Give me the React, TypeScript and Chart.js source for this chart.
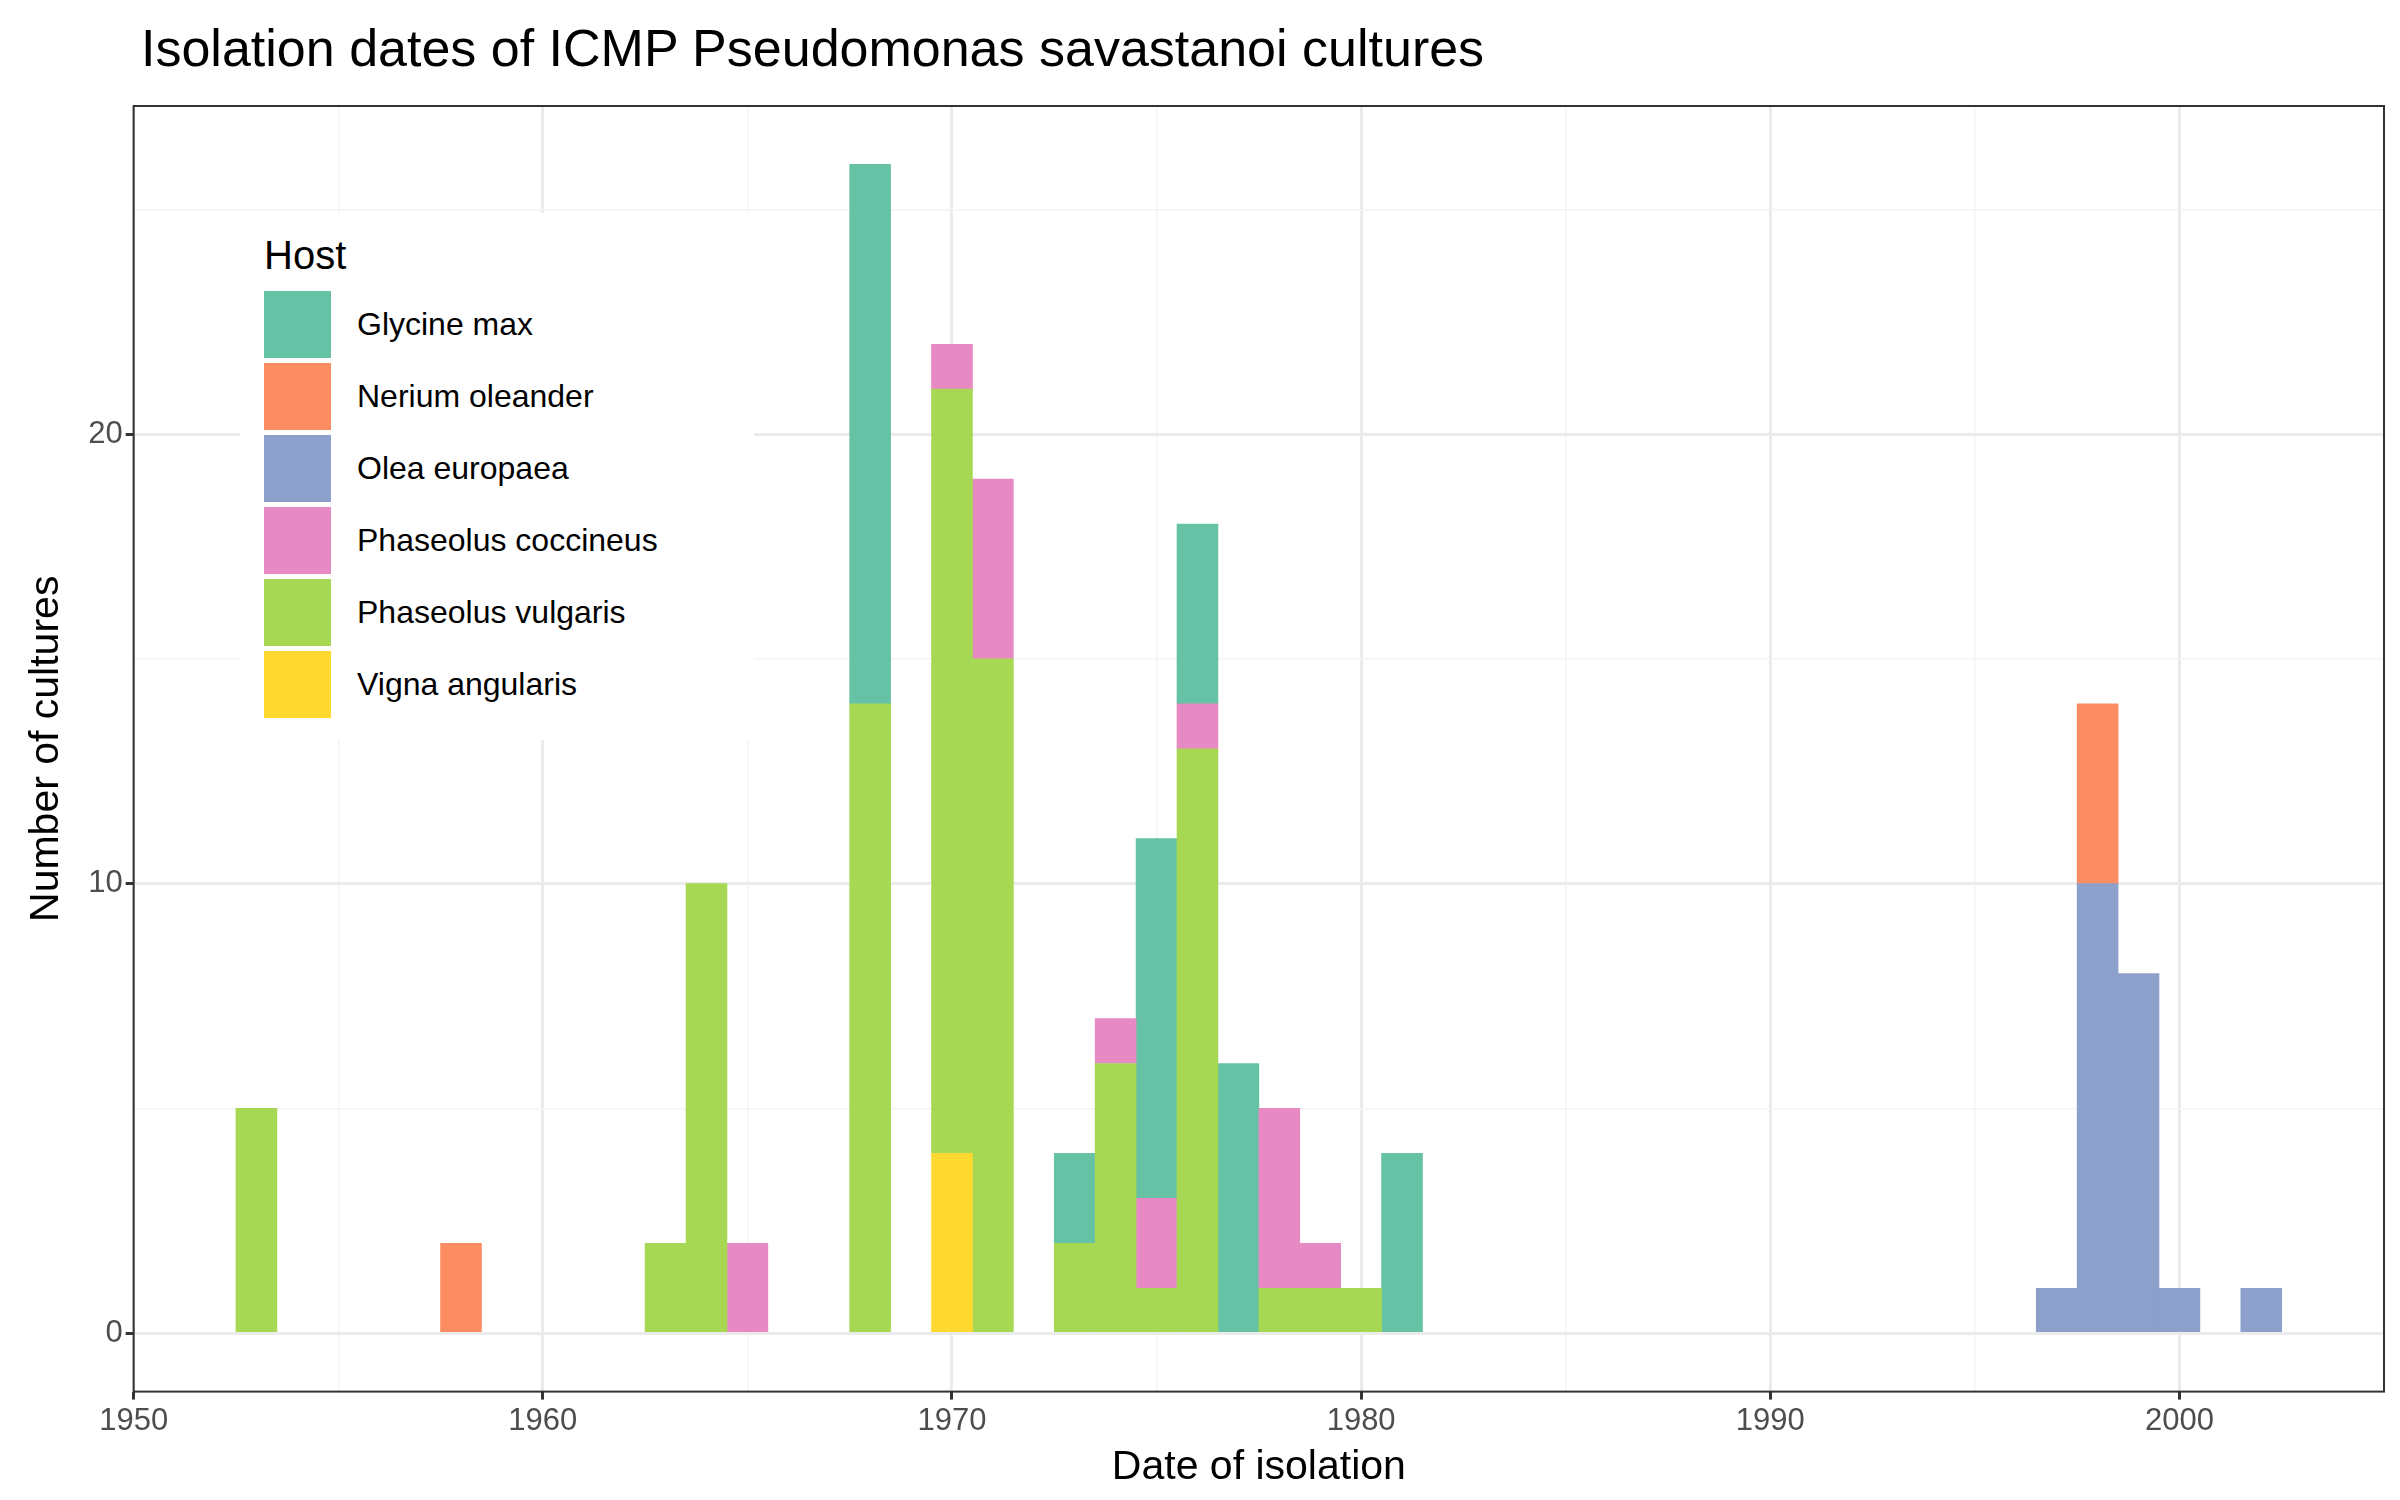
import { Chart, registerables } from "chart.js";
import { useEffect, useRef } from "react";

Chart.register(...registerables);

const hosts = ["Glycine max", "Nerium oleander", "Olea europaea", "Phaseolus coccineus", "Phaseolus vulgaris", "Vigna angularis"];
const colors = ["#66C2A5", "#FC8D62", "#8DA0CB", "#E78AC3", "#A6D854", "#FFD92F"];

const glycineYears = [1968, 1973, 1975, 1976, 1977, 1981];
const glycineCounts = [12, 2, 8, 4, 6, 4];
const neriumYears = [1958, 1998];
const neriumCounts = [2, 4];
const oleaYears = [1997, 1998, 1999, 2000, 2002];
const oleaCounts = [1, 10, 8, 1, 1];
const coccineusYears = [1965, 1970, 1971, 1974, 1975, 1976, 1978, 1979];
const coccineusCounts = [2, 1, 4, 1, 2, 1, 4, 1];
const vulgarisYears = [1953, 1963, 1964, 1968, 1970, 1971, 1973, 1974, 1975, 1976, 1978, 1979, 1980];
const vulgarisCounts = [5, 2, 10, 14, 17, 15, 2, 6, 1, 13, 1, 1, 1];
const vignaYears = [1970];
const vignaCounts = [4];

const xTicks = [1950, 1955, 1960, 1965, 1970, 1975, 1980, 1985, 1990, 1995, 2000, 2005];
const yTicks = [0, 5, 10, 15, 20, 25];

const FONT = "'Liberation Sans', Arial, sans-serif";

function pts(years: number[], counts: number[]) {
  return years.map((x, i) => ({ x, y: counts[i] }));
}

export default function App() {
  const canvasRef = useRef<HTMLCanvasElement | null>(null);
  const chartRef = useRef<Chart | null>(null);

  useEffect(() => {
    const canvas = canvasRef.current;
    if (!canvas) return;
    const ctx = canvas.getContext("2d");
    if (!ctx) return;

    // bottom-to-top stacking order (ggplot stacks last level at bottom)
    const series = [
      { i: 5, d: pts(vignaYears, vignaCounts) },
      { i: 4, d: pts(vulgarisYears, vulgarisCounts) },
      { i: 3, d: pts(coccineusYears, coccineusCounts) },
      { i: 2, d: pts(oleaYears, oleaCounts) },
      { i: 1, d: pts(neriumYears, neriumCounts) },
      { i: 0, d: pts(glycineYears, glycineCounts) },
    ];

    const border = {
      id: "panelBorder",
      afterDraw(c: Chart) {
        const a = c.chartArea;
        c.ctx.save();
        c.ctx.strokeStyle = "#333333";
        c.ctx.lineWidth = 2;
        c.ctx.strokeRect(a.left, a.top, a.right - a.left, a.bottom - a.top);
        c.ctx.restore();
      },
    };

    const gridColor = (c: any) => (c.tick && c.tick.value % 10 === 0 ? "#EBEBEB" : "#F4F4F4");
    const gridWidth = (c: any) => (c.tick && c.tick.value % 10 === 0 ? 3 : 1.5);

    chartRef.current?.destroy();
    chartRef.current = new Chart(ctx, {
      type: "bar",
      data: {
        datasets: series.map((s) => ({
          label: hosts[s.i],
          data: s.d,
          backgroundColor: colors[s.i],
          barPercentage: 1,
          categoryPercentage: 1,
          borderWidth: 0,
        })),
      },
      plugins: [border],
      options: {
        animation: false,
        responsive: true,
        maintainAspectRatio: false,
        layout: { padding: { left: 14, right: 8, top: 98, bottom: 0 } },
        plugins: {
          legend: { display: false },
          tooltip: { enabled: false },
        },
        scales: {
          x: {
            type: "linear",
            stacked: true,
            min: 1950,
            max: 2005,
            offset: false,
            afterBuildTicks: (s: any) => {
              s.ticks = xTicks.map((v) => ({ value: v }));
            },
            grid: {
              offset: false,
              color: gridColor,
              lineWidth: gridWidth,
              tickColor: (c: any) => (c.tick && c.tick.value % 10 === 0 ? "#333" : "transparent"),
              tickLength: 8,
            },
            border: { display: false },
            ticks: {
              color: "#4D4D4D",
              font: { family: FONT, size: 31 },
              maxRotation: 0,
              autoSkip: false,
              callback: (v: any) => (Number(v) % 10 === 0 && Number(v) <= 2000 ? String(v) : ""),
            },
            title: {
              display: true,
              text: "Date of isolation",
              color: "#000",
              font: { family: FONT, size: 41 },
              padding: { top: 0, bottom: 0 },
            },
          },
          y: {
            stacked: true,
            min: -1.3,
            max: 27.3,
            afterBuildTicks: (s: any) => {
              s.ticks = yTicks.map((v) => ({ value: v }));
            },
            grid: {
              color: gridColor,
              lineWidth: gridWidth,
              tickColor: (c: any) => (c.tick && c.tick.value % 10 === 0 ? "#333" : "transparent"),
              tickLength: 8,
            },
            border: { display: false },
            ticks: {
              color: "#4D4D4D",
              font: { family: FONT, size: 31 },
              callback: (v: any) => (Number(v) % 10 === 0 ? String(v) : ""),
            },
            title: {
              display: true,
              text: "Number of cultures",
              color: "#000",
              font: { family: FONT, size: 41 },
              padding: { top: 0, bottom: 14 },
            },
          },
        },
      },
    });

    return () => {
      chartRef.current?.destroy();
      chartRef.current = null;
    };
  }, []);

  return (
    <div style={{ position: "relative", width: 2384, height: 1484, fontFamily: FONT }}>
      <canvas ref={canvasRef} />
      <div style={{ position: "absolute", left: 133, top: 10, fontSize: 52, color: "#000" }}>
        Isolation dates of ICMP Pseudomonas savastanoi cultures
      </div>
      <div
        style={{
          position: "absolute",
          left: 232,
          top: 205,
          width: 490,
          padding: "20px 0 20px 24px",
          background: "#fff",
        }}
      >
        <div style={{ fontSize: 40, marginBottom: 10 }}>Host</div>
        {hosts.map((h, i) => (
          <div key={h} style={{ display: "flex", alignItems: "center", height: 72 }}>
            <div style={{ width: 67, height: 67, background: colors[i], marginRight: 26 }} />
            <span style={{ fontSize: 32 }}>{h}</span>
          </div>
        ))}
      </div>
    </div>
  );
}
